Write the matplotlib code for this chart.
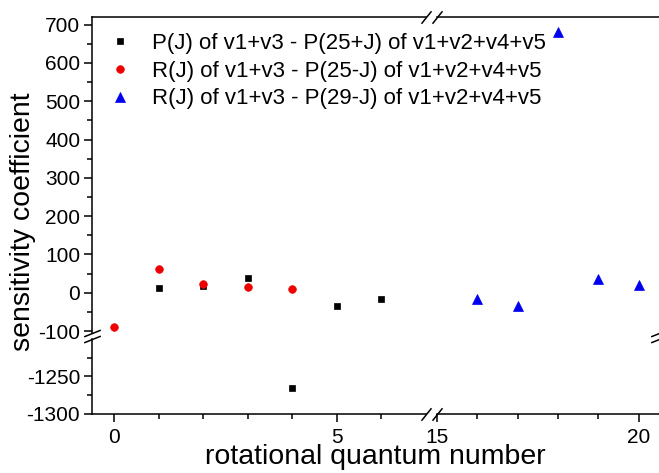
import matplotlib
matplotlib.use('Agg')
import matplotlib.pyplot as plt
from matplotlib.ticker import FixedLocator

plt.rcParams['font.family'] = ['Liberation Sans', 'DejaVu Sans']
plt.rcParams['axes.unicode_minus'] = False

# values
J_p = [1, 2, 3, 4, 5, 6]
S_p = [13, 18, 38, -1266, -35, -17]
J_r = [0, 1, 2, 3, 4]
S_r = [-89, 62, 24, 14, 10]
J_r2 = [16, 17, 18, 19, 20]
S_r2 = [-15, -34, 682, 35, 20]

lab_p = 'P(J) of v1+v3 - P(25+J) of v1+v2+v4+v5'
lab_r = 'R(J) of v1+v3 - P(25-J) of v1+v2+v4+v5'
lab_r2 = 'R(J) of v1+v3 - P(29-J) of v1+v2+v4+v5'

W, H = 659, 473
fig = plt.figure(figsize=(W/100, H/100), dpi=100)


def box(x0, x1, y0, y1):
    # pixel box, y measured from the top
    return [x0/W, 1 - y1/H, (x1 - x0)/W, (y1 - y0)/H]


ax_ul = fig.add_axes(box(92, 426, 17, 333))
ax_ur = fig.add_axes(box(436.7, 659, 17, 333))
ax_ll = fig.add_axes(box(92, 426, 339, 413.5))
ax_lr = fig.add_axes(box(436.7, 659, 339, 413.5))
axes = [ax_ul, ax_ur, ax_ll, ax_lr]

lw = 1.1
fs = 15
for ax in axes:
    hp, = ax.plot(J_p, S_p, 's', color='black', ms=5, mew=0.5)
    hr, = ax.plot(J_r, S_r, 'o', color='#ee0000', ms=5.5, mew=0.5)
    hr2, = ax.plot(J_r2, S_r2, '^', color='#0000ee', ms=6.5, mew=0.5)
    for s in ax.spines.values():
        s.set_visible(False)
        s.set_linewidth(lw)
    ax.tick_params(which='both', direction='out', width=lw, labelsize=fs,
                   top=False, bottom=False, left=False, right=False,
                   labelbottom=False, labelleft=False)
    ax.tick_params(which='major', length=5.5, pad=3)
    ax.tick_params(which='minor', length=3.5)
    ax.tick_params(axis='x', which='major', pad=5)
    if ax is ax_ul:
        handles = [hp, hr]
    if ax is ax_ur:
        handles.append(hr2)

ax_ul.set_xlim(-0.5, 7)
ax_ll.set_xlim(-0.5, 7)
ax_ur.set_xlim(15, 20.5)
ax_lr.set_xlim(15, 20.5)
ax_ul.set_ylim(-105, 720)
ax_ur.set_ylim(-105, 720)
ax_ll.set_ylim(-1300, -1200)
ax_lr.set_ylim(-1300, -1200)

ax_ul.spines['top'].set_visible(True)
ax_ur.spines['top'].set_visible(True)
ax_ul.spines['left'].set_visible(True)
ax_ll.spines['left'].set_visible(True)
ax_ll.spines['bottom'].set_visible(True)
ax_lr.spines['bottom'].set_visible(True)

ax_ul.yaxis.set_major_locator(FixedLocator(range(-100, 701, 100)))
ax_ul.yaxis.set_minor_locator(FixedLocator(range(-50, 651, 100)))
ax_ul.tick_params(axis='y', which='both', left=True, labelleft=True)

ax_ll.yaxis.set_major_locator(FixedLocator([-1300, -1250]))
ax_ll.yaxis.set_minor_locator(FixedLocator([-1275, -1225]))
ax_ll.tick_params(axis='y', which='both', left=True, labelleft=True)
ax_ll.xaxis.set_major_locator(FixedLocator([0, 5]))
ax_ll.xaxis.set_minor_locator(FixedLocator([1, 2, 3, 4, 6]))
ax_ll.tick_params(axis='x', which='both', bottom=True, labelbottom=True)

ax_lr.xaxis.set_major_locator(FixedLocator([15, 20]))
ax_lr.xaxis.set_minor_locator(FixedLocator([16, 17, 18, 19]))
ax_lr.tick_params(axis='x', which='both', bottom=True, labelbottom=True)

# break marks
ybrk = [(-1, -0.4), (1, 0.4)]
xbrk = [(-0.8, -1), (0.8, 1)]
kw = dict(color='black', mew=lw, ls='none', clip_on=False)
for ax, pt in [(ax_ul, (0, 0)), (ax_ll, (0, 1)), (ax_ur, (1, 0)), (ax_lr, (1, 1))]:
    ax.plot([pt[0]], [pt[1]], transform=ax.transAxes, marker=ybrk, ms=12, **kw)
for ax, pt in [(ax_ul, (1, 1)), (ax_ll, (1, 0)), (ax_ur, (0, 1)), (ax_lr, (0, 0))]:
    ax.plot([pt[0]], [pt[1]], transform=ax.transAxes, marker=xbrk, ms=9, **kw)

fig.text(375.5/W, 1 - 457/H, 'rotational quantum number', ha='center',
         va='center', size=20.5)
fig.text(23/W, 1 - 222/H, 'sensitivity coefficient', ha='center',
         va='center', rotation=90, size=20.5)

fig.legend(handles, [lab_p, lab_r, lab_r2], loc='upper left',
           bbox_to_anchor=(109/W, 1 - 33/H), frameon=False, fontsize=16,
           handlelength=1, handletextpad=0.95, labelspacing=0.3,
           borderpad=0, borderaxespad=0)

fig.savefig('out.png', dpi=100)
